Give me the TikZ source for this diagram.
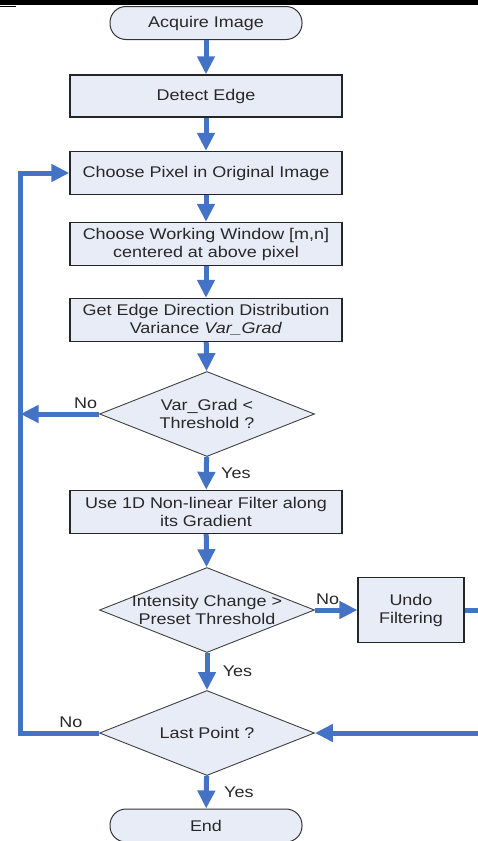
\documentclass[tikz,border=0pt]{standalone}
\usepackage{fontspec}
\setmainfont{Liberation Sans}[FakeStretch=1.16]
\usetikzlibrary{arrows.meta, shapes.geometric}
\definecolor{FlowBlue}{RGB}{68,114,196}
\definecolor{BoxFill}{RGB}{231,236,247}
\definecolor{TextGray}{RGB}{40,40,40}

\begin{document}
\begin{tikzpicture}[x=1pt, y=-1pt,
    every node/.style={font=\fontsize{15.5}{18}\selectfont, text=TextGray},
    terminal/.style={draw=black!80, fill=BoxFill, rounded corners=16pt,
      minimum width=192pt, minimum height=33pt, line width=1pt},
    process/.style={draw=black!85, fill=BoxFill, minimum width=272pt,
      minimum height=43pt, line width=1.4pt, align=center, inner sep=2pt},
    decision/.style={diamond, draw=black!75, fill=BoxFill, minimum width=215pt,
      minimum height=85pt, inner sep=0pt, line width=0.9pt},
    flow/.style={draw=FlowBlue, line width=5pt, -{Triangle[length=18pt, width=17pt]}}]

    \useasboundingbox (0,0) rectangle (478,841);
    \clip (0,0) rectangle (478,841);

    % --- Filete de cabecera ---
    \fill[black] (0,0) rectangle (478,4.5);
    \draw[line width=1pt] (0,6) -- (16,6);

    % --- Nodos ---
    \node[terminal] (acq) at (206,23) {Acquire Image};
    \node[process, minimum height=42pt] (det) at (206,96) {Detect Edge};
    \node[process] (pix) at (206,173) {Choose Pixel in Original Image};
    \node[process] (win) at (206,244) {Choose Working Window [m,n]\\centered at above pixel};
    \node[process] (var) at (206,320) {Get Edge Direction Distribution\\Variance \textit{Var\_Grad}};
    \node[decision, label={[align=center]center:Var\_Grad <\\Threshold ?}] (d1) at (207,414) {};
    \node[process] (filt) at (206,512) {Use 1D Non-linear Filter along\\its Gradient};
    \node[decision, label={[align=center]center:Intensity Change >\\Preset Threshold}] (d2) at (207,610) {};
    \node[process, minimum width=106pt, minimum height=65pt, line width=1.2pt] (undo) at (411,610) {Undo\\Filtering};
    \node[decision, label={center:Last Point ?}] (d3) at (207,733) {};
    \node[terminal] (end) at (206,825.5) {End};

    % --- Puntos auxiliares de los lazos ---
    \coordinate (loop) at (20.5,0);
    \coordinate (rim) at (492,0);

    % --- Flujo principal ---
    \draw[flow] (acq) -- (det);
    \draw[flow] (det) -- (pix);
    \draw[flow] (pix) -- (win);
    \draw[flow] (win) -- (var);
    \draw[flow] (var) -- (d1);
    \draw[flow] (d1) -- node[right=9pt] (yes1) {Yes} (filt);
    \draw[flow] (filt) -- (d2);
    \draw[flow] (d2) -- node[right=10pt] (yes2) {Yes} (d3);
    \draw[flow] (d3) -- node[right=12pt] (yes3) {Yes} (end);

    % --- Ramas "No" y retornos ---
    \draw[flow] (d1.west) -- node[above, pos=0.17] (no1) {No} (d1.west -| loop);
    \draw[flow] (d2) -- node[above, pos=0.3] (no2) {No} (undo);
    \draw[flow] (d3.west) -- node[above, pos=0.36] (no3) {No} (d3.west -| loop) |- (pix.west);
    \draw[flow] (undo.east) -- (undo.east -| rim) |- (d3.east);

  \end{tikzpicture}
\end{document}
